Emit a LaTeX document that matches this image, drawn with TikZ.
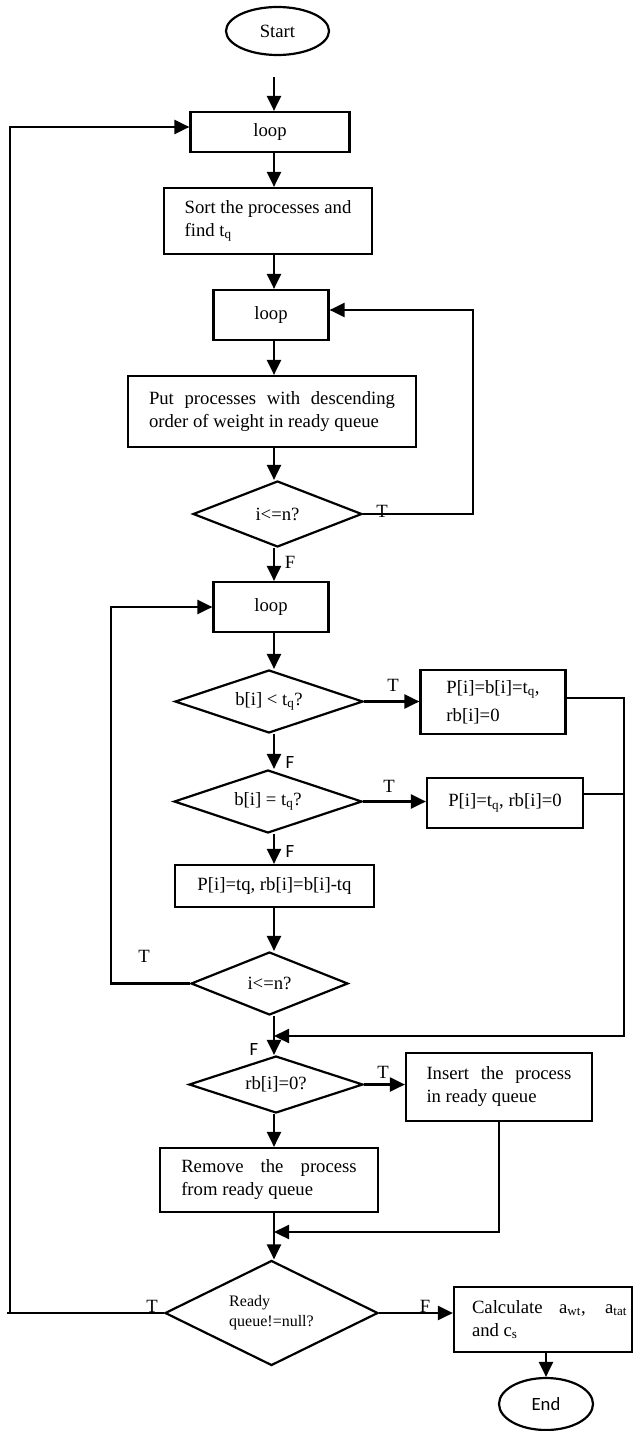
\documentclass[tikz,border=0pt]{standalone}
\usepackage{fontspec}
\setmainfont{Liberation Serif}
\newfontfamily\calib{Carlito}
\usetikzlibrary{shapes.geometric,arrows.meta}
\newcommand{\mainfs}{\fontsize{18.7}{23}\selectfont}
\begin{document}
\begin{tikzpicture}[x=1pt,y=-1pt,
  every node/.style={font=\mainfs},
  box/.style={draw, line width=2.2pt, rectangle, inner sep=0pt},
  dec/.style={draw, line width=2.2pt, diamond, aspect=3, inner sep=0pt},
  term/.style={draw, line width=2.2pt, ellipse, inner sep=0pt},
  con/.style={line width=2.2pt},
  arr/.style={con, -{Triangle[length=15pt,width=14pt]}},
  lbl/.style={inner sep=0pt},
  lblsf/.style={inner sep=0pt, font=\mainfs\calib},
]
\useasboundingbox (0,0) rectangle (633,1431);
% nodes
\node[term, minimum width=103pt, minimum height=48pt] (start) at (277.5,31) {Start};
\node[box, minimum width=159pt, minimum height=40pt] (loopA) at (270,132) {loop};
\node[box, minimum width=208pt, minimum height=66pt, align=left] (sort) at (268,221) {Sort the processes and\\find t\textsubscript{q}};
\node[box, minimum width=115pt, minimum height=50pt] (loopB) at (271,315) {loop};
\node[box, minimum width=288pt, minimum height=71pt, text width=246pt, align=justify] (put) at (272,411.5) {Put processes with descending\linebreak order of weight in ready queue};
\node[dec, minimum width=169pt, minimum height=66pt] (d1) at (277.5,514) {i<=n?};
\node[box, minimum width=115pt, minimum height=50pt] (loopC) at (271,607) {loop};
\node[dec, minimum width=188pt, minimum height=63pt] (d2) at (269,701.5) {b[i] < t\textsubscript{q}?};
\node[box, minimum width=145pt, minimum height=64pt, align=left, font=\fontsize{18.7}{28}\selectfont] (t1) at (493,702) {P[i]=b[i]=t\textsubscript{q},\\rb[i]=0};
\node[dec, minimum width=188pt, minimum height=63pt] (d3) at (268,801.5) {b[i] = t\textsubscript{q}?};
\node[box, minimum width=156pt, minimum height=50pt] (t2) at (505,803) {P[i]=t\textsubscript{q}, rb[i]=0};
\node[box, minimum width=199pt, minimum height=42pt] (b4) at (274.5,886) {P[i]=tq, rb[i]=b[i]-tq};
\node[dec, minimum width=157pt, minimum height=63pt] (d4) at (269.5,983.5) {i<=n?};
\node[dec, minimum width=174pt, minimum height=57pt] (d5) at (276,1084.5) {rb[i]=0?};
\node[box, minimum width=186pt, minimum height=68pt, text width=145pt, align=justify] (ins) at (499,1087) {Insert the process\linebreak in ready queue};
\node[box, minimum width=218pt, minimum height=64pt, text width=175.5pt, align=justify] (rem) at (269,1180) {Remove the process\linebreak from ready queue};
\node[dec, aspect=2, minimum width=213pt, minimum height=105pt, align=left, font=\fontsize{16}{20}\selectfont] (d6) at (271.5,1313) {Ready\\queue!=null?};
\node[box, minimum width=178pt, minimum height=65pt, text width=168pt, align=justify] (calc) at (543,1319.5) {\hspace*{13pt}Calculate a\textsubscript{wt}, a\textsubscript{tat}\linebreak\hspace*{13pt}and c\textsubscript{s}};
\node[term, minimum width=94pt, minimum height=52pt, font=\mainfs\calib] (stop) at (546,1404) {End};
% rails
\coordinate (col) at (274,0);
\coordinate (railL) at (10,0);
\coordinate (railB) at (473,0);
\coordinate (railC) at (111,0);
\coordinate (railR) at (624,0);
\coordinate (m1) at (274,1036);
\coordinate (m2) at (274,1232);
% connectors
\draw[arr, shorten <=21pt] (start.south -| col) -- (loopA.north -| col);
\draw[arr] (loopA.south -| col) -- (sort.north -| col);
\draw[arr] (sort.south -| col) -- (loopB.north -| col);
\draw[arr] (loopB.south -| col) -- (put.north -| col);
\draw[arr] (put.south -| col) -- (d1.north -| col);
\draw[arr] (d1.east) -- (d1.east -| railB) |- ([yshift=5pt]loopB.east);
\draw[arr] (d1.south -| col) -- (loopC.north -| col);
\draw[arr] (loopC.south -| col) -- (d2.north -| col);
\draw[arr] (d2.east) -- (d2.east -| t1.west);
\draw[arr] (d2.south -| col) -- (d3.north -| col);
\draw[arr] (d3.east) -- (d3.east -| t2.west);
\draw[arr] (d3.south -| col) -- (b4.north -| col);
\draw[arr] (b4.south -| col) -- (d4.north -| col);
\draw[arr] (d4.west) -- (d4.west -| railC) |- (loopC.west);
\draw[arr] ([yshift=4pt]t1.east) -| (railR |- m1) -- (m1);
\draw[con] ([yshift=9pt]t2.east) -- ([yshift=9pt]t2.east -| railR);
\draw[arr] (d4.south -| col) -- (d5.north -| col);
\draw[arr] (d5.east) -- (d5.east -| ins.west);
\draw[arr] (d5.south -| col) -- (rem.north -| col);
\draw[arr] (ins.south) |- (m2);
\draw[arr] (rem.south -| col) -- (d6.north -| col);
\draw[arr] (d6.west) -- (d6.west -| railL) |- ([yshift=5pt]loopA.west);
\draw[con] (d6.west -| railL) -- ++(-3,0);
\draw[arr] (d6.east) -- (d6.east -| calc.west);
\draw[arr] (calc.south -| stop) -- (stop.north);
% labels
\node[lbl] (lT1) at (382,511) {T};
\node[lbl] (lF1) at (290,562) {F};
\node[lbl] (lT2) at (393,685) {T};
\node[lblsf] (lF2) at (290,762) {F};
\node[lbl] (lT3) at (389,786) {T};
\node[lblsf] (lF3) at (290,851) {F};
\node[lbl] (lT4) at (144,956) {T};
\node[lblsf] (lF4) at (254,1049) {F};
\node[lbl] (lT5) at (383,1072) {T};
\node[lbl] (lT6) at (152,1306) {T};
\node[lbl] (lF6) at (425,1306) {F};
\end{tikzpicture}
\end{document}
